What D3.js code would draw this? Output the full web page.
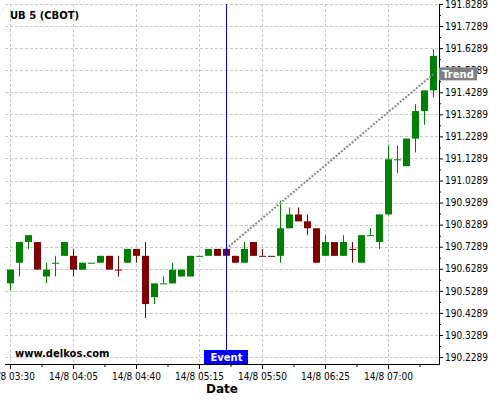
<!DOCTYPE html>
<html><head><meta charset="utf-8">
<script src="https://cdn.jsdelivr.net/npm/d3@7"></script>
<style>
body{margin:0;background:#fff;}
svg{display:block;font-family:"DejaVu Sans",sans-serif;}
.ax text{font-family:"DejaVu Sans Condensed","DejaVu Sans",sans-serif;font-stretch:condensed;font-size:10px;fill:#000;}
</style></head><body><svg id="c" width="500" height="400"></svg>
<script>
const title = "UB 5 (CBOT)";
const watermark = "www.delkos.com";
const xTitle = "Date";
const dayLabel = "14/8";
const times = ["03:30","03:35","03:40","03:45","03:50","03:55","04:00","04:05","04:10","04:15","04:20","04:25",
  "04:30","04:35","04:40","04:45","04:50","04:55","05:00","05:05","05:10","05:15","05:20","05:25",
  "05:30","05:35","05:40","05:45","05:50","05:55","06:00","06:05","06:10","06:15","06:20","06:25",
  "06:30","06:35","06:40","06:45","06:50","06:55","07:00","07:05","07:10","07:15","07:20","07:25"];
const openV = [190.5625,190.65625,190.75,190.75,190.59375,190.65625,190.6875,190.6875,190.625,190.65625,190.65625,190.6875,
  190.625,190.65625,190.71875,190.6875,190.5,190.5625,190.5625,190.59375,190.59375,190.6875,190.6875,190.71875,
  190.71875,190.6875,190.65625,190.75,190.6875,190.6875,190.6875,190.8125,190.875,190.84375,190.8125,190.6875,
  190.75,190.6875,190.71875,190.65625,190.78125,190.75,190.875,191.125,191.09375,191.21875,191.34375,191.4375];
const highV = [190.625,190.75,190.78125,190.75,190.65625,190.6875,190.75,190.71875,190.65625,190.65625,190.6875,190.6875,
  190.6875,190.71875,190.71875,190.75,190.5625,190.59375,190.65625,190.625,190.6875,190.6875,190.71875,190.71875,
  190.71875,190.6875,190.75,190.75,190.71875,190.6875,190.9375,190.90625,190.90625,190.875,190.8125,190.78125,
  190.75,190.78125,190.75,190.78125,190.8125,190.875,191.1875,191.1875,191.21875,191.375,191.4375,191.625];
const lowV = [190.53125,190.59375,190.71875,190.625,190.5625,190.59375,190.6875,190.59375,190.625,190.65625,190.65625,190.625,
  190.59375,190.65625,190.65625,190.40625,190.46875,190.5625,190.5625,190.59375,190.59375,190.6875,190.6875,190.6875,
  190.6875,190.65625,190.65625,190.6875,190.6875,190.6875,190.65625,190.8125,190.84375,190.78125,190.65625,190.6875,
  190.6875,190.6875,190.65625,190.65625,190.78125,190.71875,190.875,191.0625,191.09375,191.15625,191.28125,191.40625];
const closeV = [190.625,190.75,190.78125,190.625,190.625,190.65625,190.75,190.625,190.65625,190.65625,190.6875,190.625,
  190.624,190.71875,190.6875,190.46875,190.5625,190.5625,190.625,190.625,190.6875,190.6875,190.71875,190.6875,
  190.6875,190.65625,190.71875,190.6875,190.6865,190.6865,190.8125,190.875,190.84375,190.8125,190.65625,190.75,
  190.6875,190.75,190.71775,190.78125,190.78125,190.875,191.125,191.125,191.21875,191.34375,191.4375,191.59375];
const yTicks = [190.2289,190.3289,190.4289,190.5289,190.6289,190.7289,190.8289,190.9289,191.0289,191.1289,
  191.2289,191.3289,191.4289,191.5289,191.6289,191.7289,191.8289];
const xTicks = ["03:30","04:05","04:40","05:15","05:50","06:25","07:00"];
const xMinorTicks = ["03:47:30","04:22:30","04:57:30","05:32:30","06:07:30","06:42:30","07:17:30"];
const eventTime = "05:30";
const eventLabel = "Event";
const trendEndValue = 191.51;
const trendLabel = "Trend";

const parseT = s => { const p = s.split(":").map(Number); return new Date(2014,7,14,p[0],p[1],p[2]||0); };
const data = times.map((t,i)=>({t:parseT(t),o:openV[i],h:highV[i],l:lowV[i],c:closeV[i]}));

const L=5,R=439,T=4,B=364;
const x = d3.scaleTime().domain([parseT("03:27:13"), parseT("07:28:20")]).range([L,R]);
const y = d3.scaleLinear().domain([190.1972,191.8289]).range([B,T]);

const svg = d3.select("#c");
const grid = svg.append("g").attr("stroke","#c8c8c8").attr("stroke-dasharray","3,2").attr("stroke-width",1);
grid.selectAll("line.h").data(yTicks).enter().append("line")
  .attr("x1",L).attr("x2",R).attr("y1",d=>Math.round(y(d))+0.5).attr("y2",d=>Math.round(y(d))+0.5);
grid.selectAll("line.v").data(xTicks).enter().append("line")
  .attr("x1",d=>Math.round(x(parseT(d)))+0.5).attr("x2",d=>Math.round(x(parseT(d)))+0.5).attr("y1",T).attr("y2",B);

// candles
const up="#008000", dn="#800000";
const cg = svg.append("g");
data.forEach(d=>{
  const cx = Math.round(x(d.t));
  const col = d.c>=d.o?up:dn;
  cg.append("line").attr("x1",cx+0.5).attr("x2",cx+0.5).attr("y1",y(d.h)).attr("y2",y(d.l))
    .attr("stroke",col).attr("stroke-width",1);
  const top = y(Math.max(d.o,d.c)), bot = y(Math.min(d.o,d.c));
  cg.append("rect").attr("x",cx-3).attr("width",7).attr("y",top).attr("height",Math.max(1,bot-top)).attr("fill",col);
});

// trend
const ev = data.find(d=>+d.t===+parseT(eventTime));
const last = data[data.length-1];
svg.append("line").attr("x1",x(ev.t)).attr("y1",y(ev.o)).attr("x2",x(last.t)).attr("y2",y(trendEndValue))
  .attr("stroke","#888").attr("stroke-width",2).attr("stroke-dasharray","2,1.5");

// event line
const exv = Math.round(x(ev.t))+0.5;
svg.append("line").attr("x1",exv).attr("x2",exv).attr("y1",T).attr("y2",B).attr("stroke","#0000ff").attr("stroke-width",1);

// axes
const fmt = d3.format(".4f");
const ya = svg.append("g").attr("class","ax").attr("transform",`translate(${R},0)`)
  .call(d3.axisRight(y).tickValues(yTicks).tickSize(4).tickSizeOuter(0).tickPadding(2).tickFormat(fmt));
ya.select(".domain").remove();
svg.append("g").attr("transform",`translate(${R},0)`)
  .call(d3.axisRight(y).tickValues(yTicks.slice(0,-1).map(v=>v+0.05)).tickSize(2).tickSizeOuter(0).tickFormat(""))
  .call(g=>g.select(".domain").remove());
const tf = d3.timeFormat("%H:%M");
const xa = svg.append("g").attr("class","ax").attr("transform",`translate(0,${B})`)
  .call(d3.axisBottom(x).tickValues(xTicks.map(parseT)).tickSize(5).tickSizeOuter(0).tickPadding(4)
    .tickFormat(d=>dayLabel+" "+tf(d)));
xa.select(".domain").remove();
svg.append("g").attr("transform",`translate(0,${B})`)
  .call(d3.axisBottom(x).tickValues(xMinorTicks.map(parseT)).tickSize(3).tickSizeOuter(0).tickFormat(""))
  .call(g=>g.select(".domain").remove());
svg.append("line").attr("x1",R+0.5).attr("x2",R+0.5).attr("y1",T).attr("y2",B+0.5).attr("stroke","#000");
svg.append("line").attr("x1",L).attr("x2",R+1).attr("y1",B+0.5).attr("y2",B+0.5).attr("stroke","#000");

// labels
svg.append("rect").attr("x",exv-22.5).attr("y",B-14).attr("width",44).attr("height",14).attr("fill","#0000ff");
svg.append("text").attr("x",exv).attr("y",B-3).attr("text-anchor","middle").attr("fill","#fff")
  .attr("font-weight","bold").attr("font-size",10).text(eventLabel);
const ty = y(trendEndValue);
svg.append("rect").attr("x",R).attr("y",ty-7).attr("width",38).attr("height",13).attr("fill","#808080");
svg.append("text").attr("x",R+19).attr("y",ty+3.5).attr("text-anchor","middle").attr("fill","#fff")
  .attr("font-weight","bold").attr("font-size",10).text(trendLabel);

svg.append("text").attr("x",10).attr("y",19).attr("font-weight","bold").attr("font-size",10).text(title);
svg.append("text").attr("x",15).attr("y",357).attr("font-weight","bold").attr("font-size",10).text(watermark);
svg.append("text").attr("x",222).attr("y",393).attr("text-anchor","middle").attr("font-weight","bold").attr("font-size",12).text(xTitle);
</script></body></html>
